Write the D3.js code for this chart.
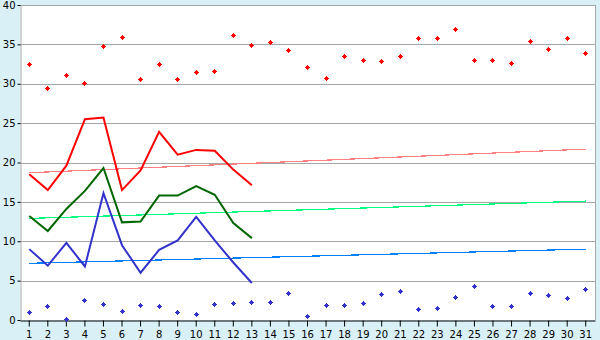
<!DOCTYPE html>
<html>
<head>
<meta charset="utf-8">
<script src="https://cdn.jsdelivr.net/npm/d3@7"></script>
<style>
  body { margin: 0; background: #d9f0f7; }
  svg { display: block; }
  text { font-family: "DejaVu Sans", Verdana, sans-serif; font-size: 10px; fill: #000; }
</style>
</head>
<body>
<svg id="chart" width="600" height="340"></svg>
<script>
"use strict";

var days = d3.range(1, 32);
var yTicks = [0, 5, 10, 15, 20, 25, 30, 35, 40];

// scatter series (all 31 days)
var highPoints = [32.5, 29.4, 31.1, 30.0, 34.7, 35.9, 30.6, 32.4, 30.5, 31.4,
  31.6, 36.1, 34.9, 35.3, 34.2, 32.1, 30.7, 33.5, 32.9, 32.8,
  33.4, 35.8, 35.8, 36.9, 32.9, 33.0, 32.6, 35.4, 34.4, 35.7, 33.9];
var lowPoints = [1.0, 1.7, 0.1, 2.5, 2.0, 1.1, 1.9, 1.7, 1.0, 0.7,
  2.0, 2.1, 2.25, 2.25, 3.4, 0.45, 1.9, 1.9, 2.1, 3.25,
  3.65, 1.35, 1.5, 2.9, 4.3, 1.75, 1.75, 3.4, 3.15, 2.75, 3.9];

// line series (days 1-13)
var redLine = [18.5, 16.5, 19.6, 25.5, 25.7, 16.5, 19.0, 23.9, 21.0, 21.6, 21.5, 19.1, 17.1];
var greenLine = [13.2, 11.3, 14.1, 16.4, 19.3, 12.4, 12.5, 15.8, 15.8, 17.0, 15.9, 12.3, 10.4];
var blueLine = [9.0, 6.9, 9.8, 6.8, 16.1, 9.5, 6.0, 8.9, 10.1, 13.1, 10.1, 7.3, 4.7];

// trend lines: value at day 1 and day 31
var redTrend = [18.7, 21.7];
var greenTrend = [12.9, 15.1];
var blueTrend = [7.2, 9.0];

function draw_chart() {
  var svg = d3.select('#chart');
  var pl = 20, pr = 595, pt = 5, pb = 320;

  var X = d3.scaleBand().domain(days).range([pl, pr]);
  var Y = d3.scaleLinear().domain([0, 40]).range([pb, pt]);
  var cx = function (d) { return X(d) + X.bandwidth() / 2; };

  svg.append('rect')
    .attr('x', pl).attr('y', pt)
    .attr('width', pr - pl).attr('height', pb - pt)
    .attr('fill', '#fff');

  // grid
  svg.append('g')
    .selectAll('line')
    .data(yTicks.slice(1))
    .join('line')
    .attr('x1', pl).attr('x2', pr)
    .attr('y1', function (d) { return Math.round(Y(d)) + 0.5; })
    .attr('y2', function (d) { return Math.round(Y(d)) + 0.5; })
    .attr('stroke', '#a6a6a6');

  svg.append('line')
    .attr('x1', pr + 0.5).attr('x2', pr + 0.5)
    .attr('y1', pt).attr('y2', pb)
    .attr('stroke', '#a6a6a6');

  // axes
  var xaxis = d3.axisBottom(X).tickSizeOuter(0).tickSizeInner(6).tickPadding(3);
  var gx = svg.append('g')
    .attr('transform', 'translate(0,' + (pb + 0.5) + ')')
    .call(xaxis);
  gx.attr('font-size', null).attr('font-family', null);
  gx.select('.domain').attr('stroke', '#000');
  gx.selectAll('.tick line').attr('stroke', '#000');
  gx.selectAll('text').attr('dy', '0.85em');

  var yaxis = d3.axisLeft(Y).tickValues(yTicks).tickSizeOuter(0).tickSizeInner(3).tickPadding(2);
  var gy = svg.append('g')
    .attr('transform', 'translate(' + (pl + 0.5) + ',0)')
    .call(yaxis);
  gy.attr('font-size', null).attr('font-family', null);
  gy.select('.domain').attr('stroke', '#a6a6a6');
  gy.selectAll('.tick line').attr('stroke', '#000');

  // trend lines
  var trends = [
    { v: redTrend, color: '#ff8080' },
    { v: greenTrend, color: '#00ff80' },
    { v: blueTrend, color: '#0080ff' }
  ];
  trends.forEach(function (t) {
    svg.append('line')
      .attr('x1', cx(days[0])).attr('x2', cx(days[days.length - 1]))
      .attr('y1', Y(t.v[0])).attr('y2', Y(t.v[1]))
      .attr('stroke', t.color)
      .attr('stroke-width', 1.2)
      .attr('shape-rendering', 'crispEdges');
  });

  // lines
  var line = d3.line()
    .x(function (d, i) { return cx(days[i]); })
    .y(function (d) { return Y(d); });

  [[redLine, '#ff0000'], [greenLine, '#006600'], [blueLine, '#3333cc']].forEach(function (s) {
    svg.append('path')
      .datum(s[0])
      .attr('d', line)
      .attr('fill', 'none')
      .attr('stroke', s[1])
      .attr('stroke-width', 2);
  });

  // scatter markers: small pixel diamonds
  [[highPoints, '#ff0000'], [lowPoints, '#3333cc']].forEach(function (s) {
    var g = svg.append('g')
      .selectAll('g')
      .data(s[0])
      .join('g')
      .attr('transform', function (d, i) {
        return 'translate(' + Math.floor(cx(days[i])) + ',' + Math.floor(Y(d)) + ')';
      })
      .attr('fill', s[1])
      .attr('shape-rendering', 'crispEdges');
    g.append('rect').attr('x', -2).attr('y', 0).attr('width', 5).attr('height', 1);
    g.append('rect').attr('x', 0).attr('y', -2).attr('width', 1).attr('height', 5);
    g.append('rect').attr('x', -1).attr('y', -1).attr('width', 3).attr('height', 3);
  });
}

draw_chart();
</script>
</body>
</html>
